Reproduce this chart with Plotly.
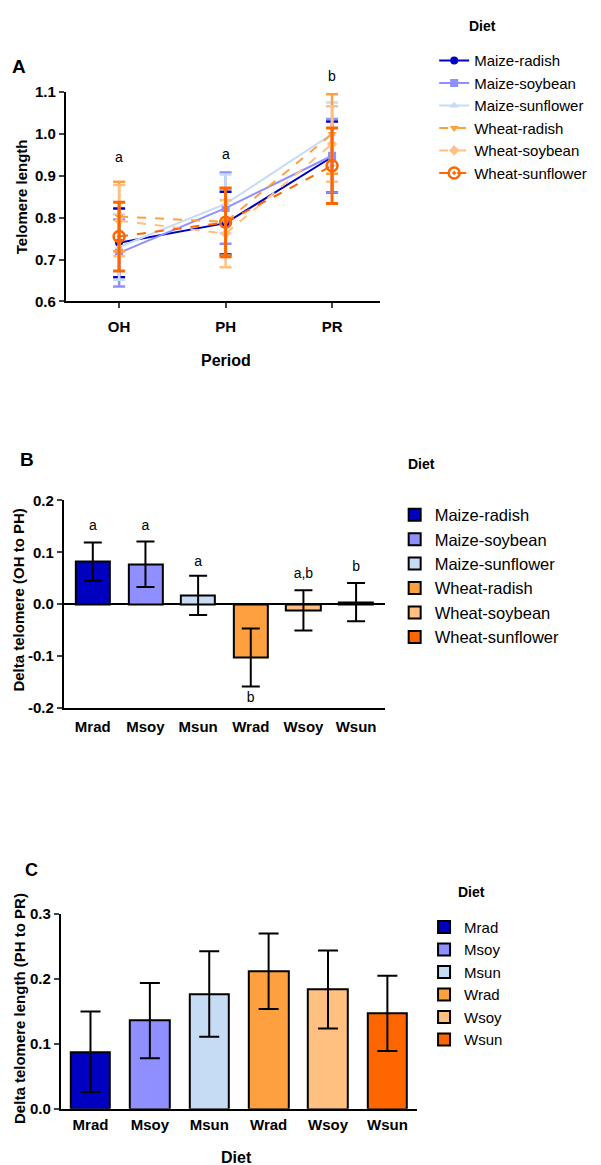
import plotly.graph_objects as go

W, H = 601, 1165

diets = ["Maize-radish", "Maize-soybean", "Maize-sunflower",
         "Wheat-radish", "Wheat-soybean", "Wheat-sunflower"]
short = ["Mrad", "Msoy", "Msun", "Wrad", "Wsoy", "Wsun"]
colors = ["#0000c0", "#8f8fff", "#c6dcf5", "#ffa040", "#ffc080", "#ff6600"]

# Panel A: telomere length by period
periods = ["OH", "PH", "PR"]
tel_mean = [
    [0.740, 0.787, 0.945],
    [0.716, 0.823, 0.948],
    [0.730, 0.833, 1.000],
    [0.803, 0.790, 1.000],
    [0.793, 0.762, 0.976],
    [0.755, 0.789, 0.924],
]
tel_err = [
    [0.082, 0.075, 0.085],
    [0.080, 0.085, 0.088],
    [0.078, 0.070, 0.075],
    [0.083, 0.080, 0.095],
    [0.085, 0.080, 0.090],
    [0.082, 0.082, 0.090],
]
letters_a = ["a", "a", "b"]
letters_a_y = [0.945, 0.952, 1.139]
range_a = [0.6, 1.1]
ticks_a = [0.6, 0.7, 0.8, 0.9, 1.0, 1.1]
ticks_a_text = ["0.6", "0.7", "0.8", "0.9", "1.0", "1.1"]

# Panel B: delta OH to PH
delta_b = [0.082, 0.077, 0.017, -0.103, -0.012, 0.004]
delta_b_err = [0.037, 0.044, 0.038, 0.056, 0.039, 0.037]
letters_b = ["a", "a", "a", "b", "a,b", "b"]
letters_b_y = [0.150, 0.150, 0.080, -0.182, 0.058, 0.070]
ticks_b = [-0.2, -0.1, 0.0, 0.1, 0.2]
ticks_b_text = ["-0.2", "-0.1", "0.0", "0.1", "0.2"]

# Panel C: delta PH to PR
delta_c = [0.088, 0.136, 0.177, 0.212, 0.184, 0.147]
delta_c_err = [0.062, 0.058, 0.066, 0.058, 0.060, 0.058]
ticks_c = [0.0, 0.1, 0.2, 0.3]
ticks_c_text = ["0.0", "0.1", "0.2", "0.3"]

symbols = ["circle", "square", "triangle-up", "triangle-down", "diamond", "circle-open-dot"]
dashes = ["solid", "solid", "solid", "dash", "dash", "dash"]

FONT = "Liberation Sans, Arial, sans-serif"

# the page gets a small offset/scale when shown; positions below are in picture pixels
S = 0.9869


def px_x(p):
    return (p / S - 8) / W


def px_y(p):
    return 1 - (p / S - 16) / H


fig = go.Figure()

for i, name in enumerate(diets):
    last = i == 5
    fig.add_trace(go.Scatter(
        x=periods, y=tel_mean[i], name=name, mode="lines+markers",
        line=dict(color=colors[i], width=2, dash=dashes[i]),
        marker=dict(symbol=symbols[i], size=11 if last else 8, color=colors[i],
                    line=dict(width=2.5 if last else 0, color=colors[i])),
        error_y=dict(type="data", array=tel_err[i], color=colors[i],
                     thickness=3 if last else 2.5, width=6),
        xaxis="x", yaxis="y", legend="legend",
    ))

for i, name in enumerate(diets):
    fig.add_trace(go.Bar(
        x=[short[i]], y=[delta_b[i]], name=name, width=0.65,
        marker=dict(color=colors[i], line=dict(color="black", width=2)),
        error_y=dict(type="data", array=[delta_b_err[i]], color="black",
                     thickness=2, width=9),
        xaxis="x2", yaxis="y2", legend="legend2",
    ))

# significance letters, panel B
fig.add_trace(go.Scatter(
    x=short, y=letters_b_y, text=letters_b, mode="text", cliponaxis=False,
    textfont=dict(family=FONT, size=14, color="black"), showlegend=False,
    hoverinfo="skip", xaxis="x2", yaxis="y2",
))

for i, name in enumerate(short):
    fig.add_trace(go.Bar(
        x=[short[i]], y=[delta_c[i]], name=name, width=0.665,
        marker=dict(color=colors[i], line=dict(color="black", width=2)),
        error_y=dict(type="data", array=[delta_c_err[i]], color="black",
                     thickness=2, width=10),
        xaxis="x3", yaxis="y3", legend="legend3",
    ))

tickfont = dict(family=FONT, size=15, color="black", weight="bold")
catfont = dict(family=FONT, size=15, color="black", weight="bold")
axis_common = dict(showline=True, linecolor="black", linewidth=2, showgrid=False,
                   zeroline=False, fixedrange=True)

annotations = []


def note(text, x, y, size=14, bold=False, angle=0, xanchor="center", xref="paper", yref="paper"):
    annotations.append(dict(
        text=text, x=x, y=y, xref=xref, yref=yref, showarrow=False,
        textangle=angle, xanchor=xanchor, yanchor="middle",
        font=dict(family=FONT, size=size, color="black", weight="bold" if bold else "normal"),
    ))


# significance letters, panel A ("b" sits above the axis range, so use the y domain)
for k in range(3):
    frac = (letters_a_y[k] - range_a[0]) / (range_a[1] - range_a[0])
    note(letters_a[k], periods[k], frac, size=14, xref="x", yref="y domain")

# panel letters and axis titles
note("A", px_x(19), px_y(65), size=19, bold=True)
note("B", px_x(27), px_y(459), size=19, bold=True)
note("C", px_x(31), px_y(870), size=18, bold=True)
note("Telomere length", px_x(22), px_y(196), size=15, bold=True, angle=-90)
note("Period", px_x(223), px_y(360), size=16, bold=True)
note("Delta telomere (OH to PH)", px_x(18), px_y(600), size=15, bold=True, angle=-90)
note("Delta telomere length (PH to PR)", px_x(19), px_y(1009), size=15, bold=True, angle=-90)
note("Diet", px_x(233), px_y(1158), size=16, bold=True)
note("Diet", px_x(461), px_y(25), size=14, bold=True, xanchor="left")
note("Diet", px_x(401), px_y(463), size=14, bold=True, xanchor="left")
note("Diet", px_x(450), px_y(892), size=14, bold=True, xanchor="left")

legend_common = dict(xanchor="left", yanchor="top", bgcolor="rgba(0,0,0,0)",
                     borderwidth=0, traceorder="normal")

fig.update_layout(
    width=W, height=H, margin=dict(l=0, r=0, t=0, b=0),
    paper_bgcolor="white", plot_bgcolor="white",
    font=dict(family=FONT, color="black"),
    showlegend=True, bargap=0,
    xaxis=dict(axis_common, domain=[px_x(65), px_x(375)], range=[-0.5, 2.45],
               ticks="outside", ticklen=5, tickwidth=2, tickfont=catfont,
               ticklabelstandoff=6, anchor="y"),
    yaxis=dict(axis_common, domain=[px_y(300.7), px_y(91)], range=range_a,
               tickvals=ticks_a, ticktext=ticks_a_text, ticks="outside",
               ticklen=5, tickwidth=2, tickfont=tickfont, anchor="x"),
    xaxis2=dict(axis_common, domain=[px_x(63), px_x(380)], range=[-0.55, 5.55],
                ticks="", tickfont=catfont, ticklabelstandoff=4, anchor="y2"),
    yaxis2=dict(axis_common, domain=[px_y(707.7), px_y(500)], range=[-0.2, 0.2],
                tickvals=ticks_b, ticktext=ticks_b_text, ticks="outside",
                ticklen=5, tickwidth=2, tickfont=tickfont, anchor="x2",
                zeroline=True, zerolinecolor="black", zerolinewidth=2),
    xaxis3=dict(axis_common, domain=[px_x(60), px_x(411.6)], range=[-0.5, 5.5],
                ticks="", tickfont=catfont, ticklabelstandoff=1, anchor="y3"),
    yaxis3=dict(axis_common, domain=[px_y(1109.3), px_y(914.3)], range=[0, 0.3],
                tickvals=ticks_c, ticktext=ticks_c_text, ticks="outside",
                ticklen=5, tickwidth=2, tickfont=tickfont, anchor="x3"),
    legend=dict(legend_common, x=px_x(428.5), y=px_y(43), font=dict(family=FONT, size=15, color="black")),
    legend2=dict(legend_common, x=px_x(389.5), y=px_y(497), font=dict(family=FONT, size=16.5, color="black")),
    legend3=dict(legend_common, x=px_x(418.5), y=px_y(911), font=dict(family=FONT, size=15, color="black")),
    annotations=annotations,
)

fig.write_html("out.html")
